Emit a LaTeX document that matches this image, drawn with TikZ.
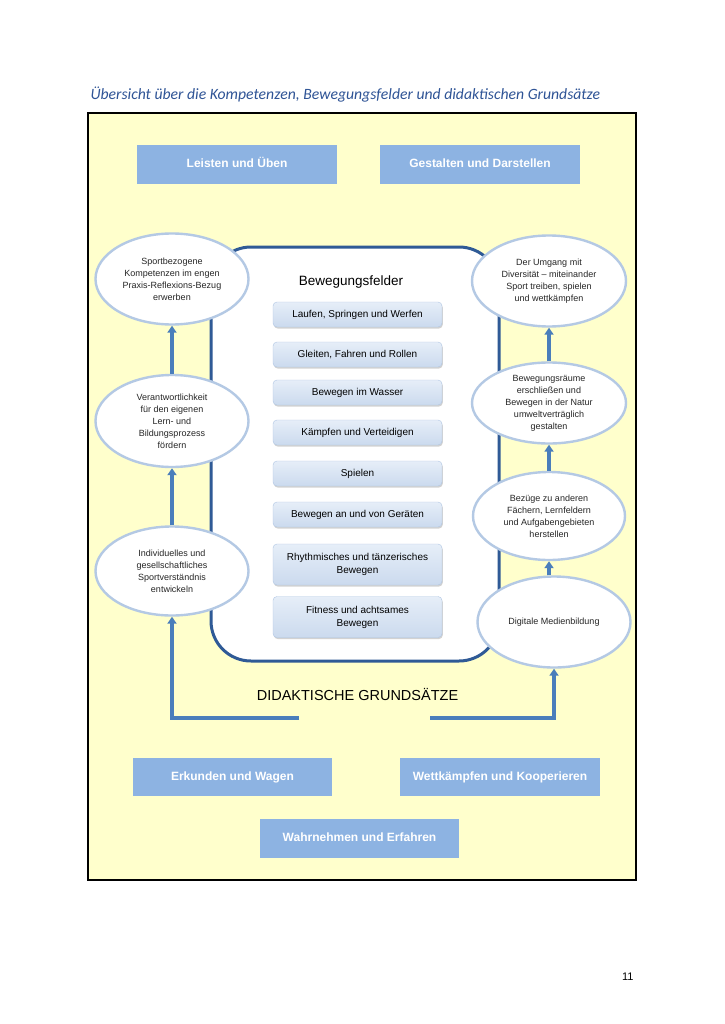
\documentclass[tikz,border=0pt]{standalone}
\usepackage{fontspec}
\setmainfont{Liberation Sans}
\newfontfamily\titlefont{Carlito}
\usetikzlibrary{arrows.meta,shapes.geometric,shadows}

\definecolor{pagebg}{HTML}{FFFFCC}
\definecolor{boxblue}{HTML}{8DB3E2}
\definecolor{frameblue}{HTML}{2F5A96}
\definecolor{arrowblue}{HTML}{4A7EBB}
\definecolor{ringblue}{HTML}{B4C9E4}
\definecolor{fieldtop}{HTML}{E6EEF8}
\definecolor{fieldbot}{HTML}{CBDAEE}
\definecolor{fieldline}{HTML}{B0C6E4}
\definecolor{titleblue}{HTML}{2F5496}

\tikzset{
  kompbox/.style={fill=boxblue, text=white, font=\bfseries\fontsize{12}{14}\selectfont,
    minimum width=200pt, minimum height=39pt, inner sep=0pt, text height=9pt, text depth=2.5pt},
  kompell/.style={ellipse, draw=ringblue, line width=2.4pt, fill=white, inner sep=0pt,
    align=center, font=\fontsize{9}{12}\selectfont, text=black!85},
  feldbox/.style={rounded corners=4pt, draw=fieldline, top color=fieldtop, bottom color=fieldbot,
    minimum width=169pt, inner sep=0pt, align=center, font=\fontsize{10}{13}\selectfont,
    drop shadow={opacity=0.35, shadow xshift=0.8pt, shadow yshift=-1.6pt}},
  uparrow/.style={-{Triangle[length=7pt,width=9pt]}, line width=3.4pt, draw=arrowblue}
}

\begin{document}
\begin{tikzpicture}[x=1pt,y=-1pt]
  \useasboundingbox (0,0) rectangle (724,1024);
  \fill[white] (0,0) rectangle (724,1024);

  \node[anchor=base west, text=titleblue, font=\titlefont\itshape\fontsize{15.7}{18}\selectfont]
    (titel) at (87,100) {Übersicht über die Kompetenzen, Bewegungsfelder und didaktischen Grundsätze};
  \node[draw=black, line width=1.3pt, fill=pagebg, minimum width=548pt, minimum height=767pt,
    inner sep=0pt] (rahmen) at (362,496.5) {};

  \node[kompbox] (lu) at (237,164.5) {Leisten und Üben};
  \node[kompbox] (gd) at (480,164.5) {Gestalten und Darstellen};

  % Bewegungsfelder
  \node[draw=frameblue, line width=3pt, fill=white, rounded corners=40pt,
    minimum width=288pt, minimum height=414pt] (bf) at (355,454) {};
  \node[font=\fontsize{13.5}{16}\selectfont] (bft) at (351,282) {Bewegungsfelder};
  \node[feldbox, minimum height=25pt] (f1) at (357.5,314.5) {Laufen, Springen und Werfen};
  \node[feldbox, minimum height=25pt] (f2) at (357.5,354.5) {Gleiten, Fahren und Rollen};
  \node[feldbox, minimum height=25pt] (f3) at (357.5,392.5) {Bewegen im Wasser};
  \node[feldbox, minimum height=25pt] (f4) at (357.5,432.5) {Kämpfen und Verteidigen};
  \node[feldbox, minimum height=25pt] (f5) at (357.5,473.5) {Spielen};
  \node[feldbox, minimum height=25pt] (f6) at (357.5,514.5) {Bewegen an und von Geräten};
  \node[feldbox, minimum height=41pt] (f7) at (357.5,564.5) {Rhythmisches und tänzerisches\\Bewegen};
  \node[feldbox, minimum height=41pt] (f8) at (357.5,617) {Fitness und achtsames\\Bewegen};

  % Kompetenzen links
  \node[kompell, minimum width=153pt, minimum height=91pt] (l1) at (172,279)
    {Sportbezogene\\Kompetenzen im engen\\Praxis-Reflexions-Bezug\\erwerben};
  \node[kompell, minimum width=153pt, minimum height=92pt] (l2) at (172,421)
    {Verantwortlichkeit\\für den eigenen\\Lern- und\\Bildungsprozess\\fördern};
  \node[kompell, minimum width=153pt, minimum height=89pt] (l3) at (172,571)
    {Individuelles und\\gesellschaftliches\\Sportverständnis\\entwickeln};

  % Kompetenzen rechts
  \node[kompell, minimum width=154pt, minimum height=91pt] (r1) at (549,281)
    {Der Umgang mit\\Diversität -- miteinander\\Sport treiben, spielen\\und wettkämpfen};
  \node[kompell, minimum width=154pt, minimum height=81pt] (r2) at (549,403)
    {Bewegungsräume\\erschließen und\\Bewegen in der Natur\\umweltverträglich\\gestalten};
  \node[kompell, minimum width=152pt, minimum height=88pt] (r3) at (549,516)
    {Bezüge zu anderen\\Fächern, Lernfeldern\\und Aufgabengebieten\\herstellen};
  \node[kompell, minimum width=153pt, minimum height=91pt] (r4) at (554,622)
    {Digitale Medienbildung};

  \draw[uparrow] (l3) -- (l2);
  \draw[uparrow] (l2) -- (l1);
  \draw[uparrow] (r4.north -| r3.south) -- (r3.south);
  \draw[uparrow] (r3) -- (r2);
  \draw[uparrow] (r2) -- (r1);

  % Didaktische Grundsaetze
  \node[font=\fontsize{14.5}{17}\selectfont] (dg) at (357.5,694) {DIDAKTISCHE GRUNDSÄTZE};
  \coordinate (gl) at (299,718);
  \coordinate (gr) at (430,718);
  \draw[uparrow, line join=miter] (gl) -| (l3.south);
  \draw[uparrow, line join=miter] (gr) -| (r4.south);

  \node[kompbox, minimum width=199pt, minimum height=38pt] (ew) at (232.5,777) {Erkunden und Wagen};
  \node[kompbox, minimum width=200pt, minimum height=38pt] (wk) at (500,777) {Wettkämpfen und Kooperieren};
  \node[kompbox, minimum width=199pt, minimum height=39pt] (we) at (359.5,838.5) {Wahrnehmen und Erfahren};

  \node[anchor=base east, font=\fontsize{11}{13}\selectfont] (seite) at (637,980) {11};
\end{tikzpicture}
\end{document}
